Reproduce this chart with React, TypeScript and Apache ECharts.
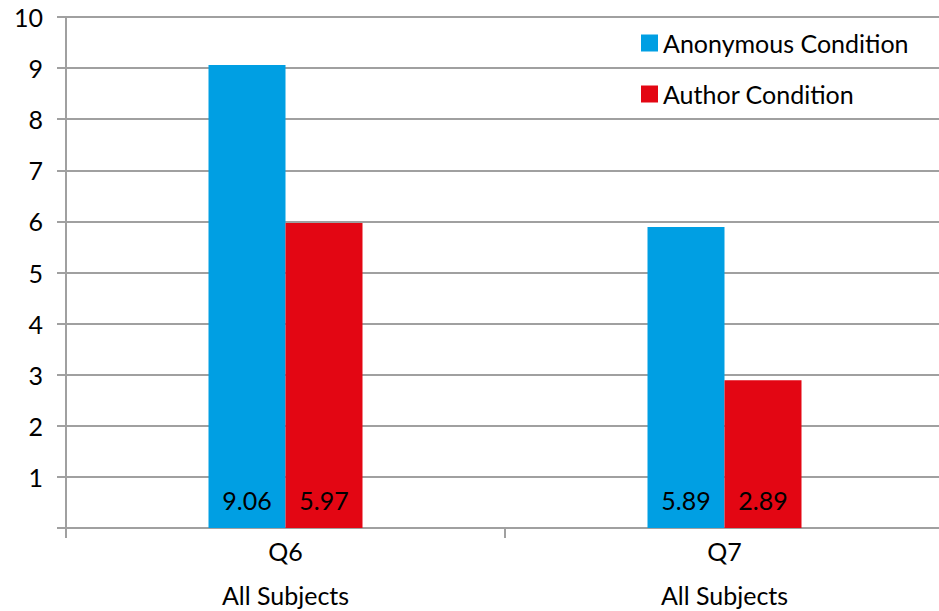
import React, { useEffect, useRef } from "react";
import * as echarts from "echarts";

const categories = ["Q6\nAll Subjects", "Q7\nAll Subjects"];
const anonymousValues = [9.06, 5.89];
const authorValues = [5.97, 2.89];
const seriesNames = ["Anonymous Condition", "Author Condition"];

const FONT = "Lato, 'Open Sans', sans-serif";
const GRID_COLOR = "#a0a0a0";
const FONT_SIZE = 25;

export default function App() {
  const ref = useRef<HTMLDivElement>(null);

  useEffect(() => {
    if (!ref.current) return;
    const chart = echarts.init(ref.current, null, { renderer: "svg" });
    const barLabel = {
      show: true,
      position: "insideBottom" as const,
      distance: 16,
      color: "#000",
      fontSize: FONT_SIZE,
      fontFamily: FONT,
      formatter: (p: any) => p.value.toFixed(2),
    };
    chart.setOption({
      animation: false,
      backgroundColor: "#fff",
      textStyle: { fontFamily: FONT },
      legend: {
        orient: "vertical",
        left: 636,
        top: 25,
        itemWidth: 17,
        itemHeight: 17,
        itemGap: 25,
        icon: "rect",
        textStyle: { fontSize: FONT_SIZE, color: "#000", fontFamily: FONT, lineHeight: 26 },
        data: seriesNames,
      },
      grid: {
        left: 66,
        top: 17,
        width: 878,
        height: 511,
        containLabel: false,
        outerBoundsMode: "none",
      },
      xAxis: {
        type: "category",
        data: categories,
        axisLine: { lineStyle: { color: GRID_COLOR, width: 2 } },
        axisTick: { show: true, alignWithLabel: false, length: 10, lineStyle: { color: GRID_COLOR, width: 2 } },
        axisLabel: { color: "#000", fontSize: FONT_SIZE, fontFamily: FONT, lineHeight: 44, margin: 1 },
      },
      yAxis: {
        type: "value",
        min: 0,
        max: 10,
        interval: 1,
        axisLine: { show: true, lineStyle: { color: GRID_COLOR, width: 2 } },
        axisTick: { show: true, inside: false, length: 9, lineStyle: { color: GRID_COLOR, width: 2 } },
        axisLabel: {
          color: "#000",
          fontSize: FONT_SIZE,
          fontFamily: FONT,
          margin: 23,
          formatter: (v: number) => (v === 0 ? "" : String(v)),
        },
        splitLine: { show: true, lineStyle: { color: GRID_COLOR, width: 2 } },
      },
      series: [
        {
          name: seriesNames[0],
          type: "bar",
          data: anonymousValues,
          barWidth: 77,
          barGap: "0%",
          itemStyle: { color: "#009fe3" },
          label: barLabel,
        },
        {
          name: seriesNames[1],
          type: "bar",
          data: authorValues,
          barWidth: 77,
          barGap: "0%",
          itemStyle: { color: "#e30613" },
          label: barLabel,
        },
      ],
    });
    return () => chart.dispose();
  }, []);

  return <div ref={ref} style={{ width: 939, height: 611, position: "absolute", left: 0, top: 0 }} />;
}
